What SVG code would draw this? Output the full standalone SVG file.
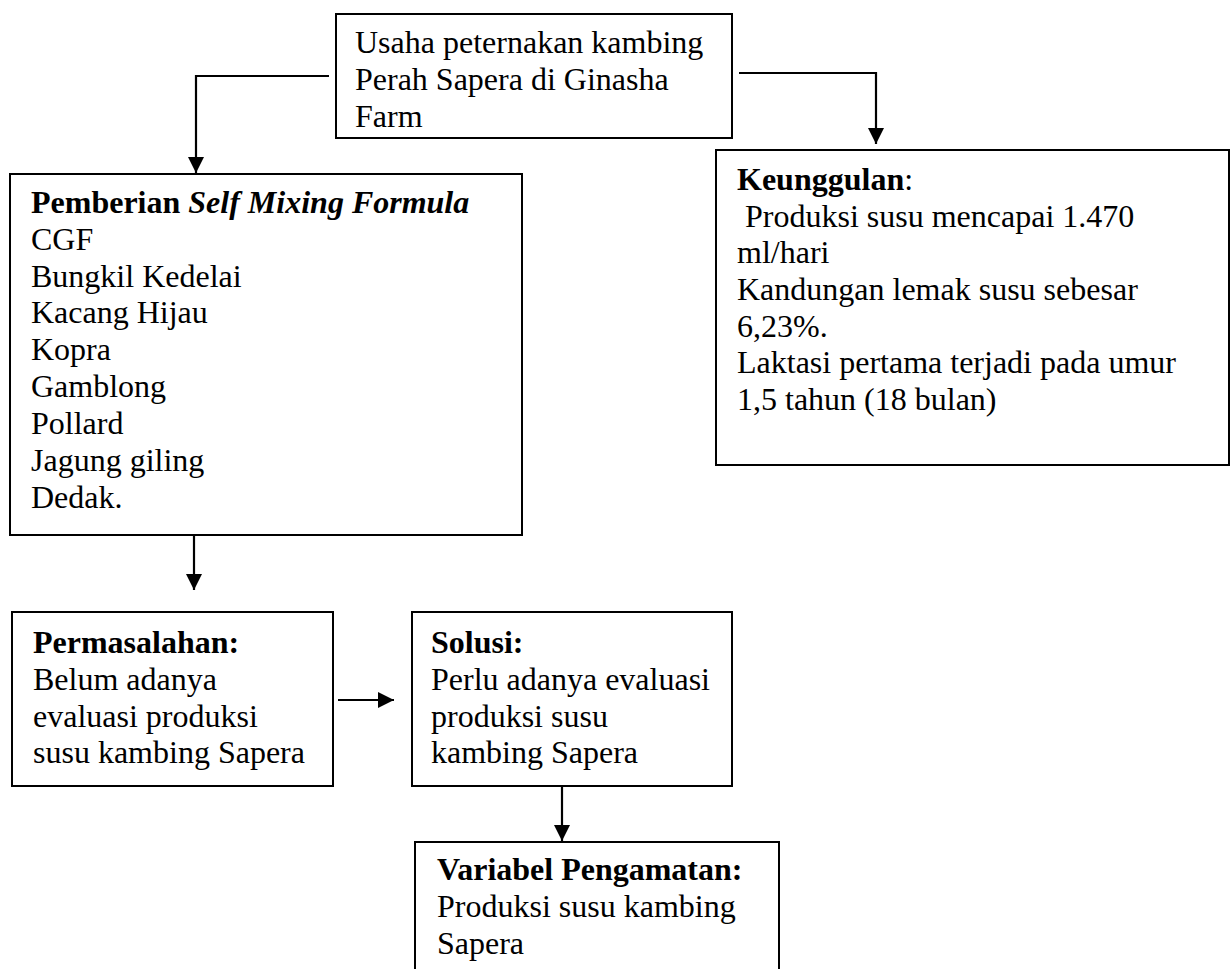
<svg xmlns="http://www.w3.org/2000/svg" width="1232" height="969" viewBox="0 0 1232 969">
<defs>
<style>
.box{fill:#fff;stroke:#000;stroke-width:2}
.t{font-family:"Liberation Serif","Times New Roman",serif;font-size:32px;fill:#000}
.b{font-weight:bold}
.i{font-style:italic}
.c{fill:none;stroke:#000;stroke-width:2.2}
</style>
<marker id="ah" viewBox="0 0 16 16" refX="16" refY="8" markerWidth="17" markerHeight="16" markerUnits="userSpaceOnUse" orient="auto">
<path d="M0,0 L16,8 L0,16 z" fill="#000"/>
</marker>
</defs>
<rect width="1232" height="969" fill="#fff"/>
<g id="connectors">
<path class="c" d="M329,76 H196 V173" marker-end="url(#ah)"/>
<path class="c" d="M739,73 H876 V144" marker-end="url(#ah)"/>
<path class="c" d="M194,535 V590" marker-end="url(#ah)"/>
<path class="c" d="M338,700 H394" marker-end="url(#ah)"/>
<path class="c" d="M562,786 V841" marker-end="url(#ah)"/>
</g>
<g id="node-usaha">
<rect class="box" x="336" y="14" width="396" height="124"/>
<text class="t" x="355" y="53">Usaha peternakan kambing</text>
<text class="t" x="355" y="90">Perah Sapera di Ginasha</text>
<text class="t" x="355" y="127">Farm</text>
</g>
<g id="node-pemberian">
<rect class="box" x="10" y="174" width="512" height="361"/>
<text class="t" x="31" y="213"><tspan class="b">Pemberian </tspan><tspan class="b i">Self Mixing Formula</tspan></text>
<text class="t" x="31" y="250">CGF</text>
<text class="t" x="31" y="287">Bungkil Kedelai</text>
<text class="t" x="31" y="323">Kacang Hijau</text>
<text class="t" x="31" y="360">Kopra</text>
<text class="t" x="31" y="397">Gamblong</text>
<text class="t" x="31" y="434">Pollard</text>
<text class="t" x="31" y="471">Jagung giling</text>
<text class="t" x="31" y="508">Dedak.</text>
</g>
<g id="node-keunggulan">
<rect class="box" x="716" y="150" width="513" height="315"/>
<text class="t" x="737" y="190"><tspan class="b">Keunggulan</tspan>:</text>
<text class="t" x="745" y="227">Produksi susu mencapai 1.470</text>
<text class="t" x="737" y="263">ml/hari</text>
<text class="t" x="737" y="300">Kandungan lemak susu sebesar</text>
<text class="t" x="737" y="337">6,23%.</text>
<text class="t" x="737" y="373">Laktasi pertama terjadi pada umur</text>
<text class="t" x="737" y="410">1,5 tahun (18 bulan)</text>
</g>
<g id="node-permasalahan">
<rect class="box" x="12" y="612" width="321" height="174"/>
<text class="t b" x="33" y="653">Permasalahan:</text>
<text class="t" x="33" y="690">Belum adanya</text>
<text class="t" x="33" y="727">evaluasi produksi</text>
<text class="t" x="33" y="763">susu kambing Sapera</text>
</g>
<g id="node-solusi">
<rect class="box" x="412" y="612" width="320" height="174"/>
<text class="t b" x="431" y="653">Solusi:</text>
<text class="t" x="431" y="690">Perlu adanya evaluasi</text>
<text class="t" x="431" y="727">produksi susu</text>
<text class="t" x="431" y="763">kambing Sapera</text>
</g>
<g id="node-variabel">
<rect class="box" x="415" y="842" width="364" height="200"/>
<text class="t b" x="437" y="880">Variabel Pengamatan:</text>
<text class="t" x="437" y="917">Produksi susu kambing</text>
<text class="t" x="437" y="954">Sapera</text>
</g>
</svg>
